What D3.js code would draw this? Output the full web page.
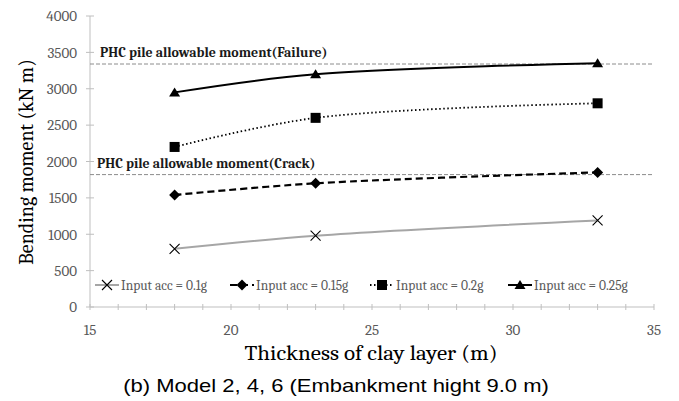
<!DOCTYPE html>
<html>
<head>
<meta charset="utf-8">
<script src="https://cdn.jsdelivr.net/npm/d3@7"></script>
<style>
  body { margin: 0; background: #fff; }
  svg { display: block; }
</style>
</head>
<body>
<svg id="chart"></svg>
<script>
// values
const thickness = [18, 23, 33];
const acc01 = [800, 980, 1190];
const acc015 = [1540, 1700, 1850];
const acc02 = [2200, 2600, 2800];
const acc025 = [2950, 3200, 3350];
const seriesNames = ['Input acc = 0.1g', 'Input acc = 0.15g', 'Input acc = 0.2g', 'Input acc = 0.25g'];
const failureMoment = 3340;
const crackMoment = 1820;
const xTicks = [15, 20, 25, 30, 35];
const yTicks = [0, 500, 1000, 1500, 2000, 2500, 3000, 3500, 4000];

const width = 679, height = 401;
const margin = {top: 16, right: 25, bottom: 94, left: 90};
const innerW = width - margin.left - margin.right;
const innerH = height - margin.top - margin.bottom;

const svg = d3.select('#chart').attr('width', width).attr('height', height);
const chart = svg.append('g').attr('transform', `translate(${margin.left},${margin.top})`);

const xscale = d3.scaleLinear().domain([15, 35]).range([0, innerW]);
const yscale = d3.scaleLinear().domain([0, 4000]).range([innerH, 0]);

const serif = 'Cambria, "Liberation Serif", "DejaVu Serif", serif';
const axisColor = '#bfbfbf';
const tickText = '#595959';

// x axis, minor ticks every 1 m crossing the line
const xg = chart.append('g').attr('transform', `translate(0,${innerH})`);
xg.append('line').attr('x1', 0).attr('x2', innerW).attr('stroke', axisColor);
xg.selectAll('.minor').data(d3.range(15, 36, 1)).join('line')
    .attr('x1', d => xscale(d)).attr('x2', d => xscale(d))
    .attr('y1', -3).attr('y2', 3)
    .attr('stroke', axisColor);
xg.selectAll('text').data(xTicks).join('text')
    .attr('x', d => xscale(d)).attr('y', 28)
    .attr('text-anchor', 'middle')
    .style('font-family', serif).style('font-size', '15px')
    .attr('fill', tickText)
    .text(d => d);

// y axis
const yg = chart.append('g');
yg.append('line').attr('y1', 0).attr('y2', innerH).attr('stroke', axisColor);
yg.selectAll('.tick').data(yTicks).join('line')
    .attr('x1', -4).attr('x2', 4)
    .attr('y1', d => yscale(d)).attr('y2', d => yscale(d))
    .attr('stroke', axisColor);
yg.selectAll('text').data(yTicks).join('text')
    .attr('x', -13).attr('y', d => yscale(d)).attr('dy', '0.35em')
    .attr('text-anchor', 'end')
    .style('font-family', serif).style('font-size', '15px')
    .attr('fill', tickText)
    .text(d => d);

// allowable moment reference lines
const refs = [
    {v: failureMoment, label: 'PHC pile allowable moment(Failure)', dx: 10},
    {v: crackMoment, label: 'PHC pile allowable moment(Crack)', dx: 7}
];
refs.forEach(r => {
    chart.append('line')
        .attr('x1', 0).attr('x2', innerW)
        .attr('y1', yscale(r.v)).attr('y2', yscale(r.v))
        .attr('stroke', '#8c8c8c').attr('stroke-dasharray', '4,2');
    chart.append('text')
        .attr('transform', `translate(${r.dx},${yscale(r.v) - 7}) scale(1.03,1)`)
        .style('font-family', serif).style('font-size', '13.5px').style('font-weight', 'bold')
        .attr('fill', '#1a1a1a')
        .text(r.label);
});

// series
const series = [
    {name: seriesNames[0], values: acc01, color: '#a6a6a6', dash: null, marker: 'x', width: 2},
    {name: seriesNames[1], values: acc015, color: '#000', dash: '7,4', marker: 'diamond', width: 2.2},
    {name: seriesNames[2], values: acc02, color: '#000', dash: '1.5,2.5', marker: 'square', width: 1.8},
    {name: seriesNames[3], values: acc025, color: '#000', dash: null, marker: 'triangle', width: 2}
];

const line = d3.line()
    .x(d => xscale(d[0]))
    .y(d => yscale(d[1]))
    .curve(d3.curveCatmullRom.alpha(0.5));

function drawMarker(g, type, x, y) {
    if (type === 'x') {
        g.append('path')
            .attr('d', `M${x-5},${y-5}L${x+5},${y+5}M${x-5},${y+5}L${x+5},${y-5}`)
            .attr('stroke', '#000').attr('stroke-width', 1.1).attr('fill', 'none');
    } else if (type === 'diamond') {
        g.append('path').attr('d', `M${x},${y-5.5}L${x+5.5},${y}L${x},${y+5.5}L${x-5.5},${y}Z`)
            .attr('fill', '#000');
    } else if (type === 'square') {
        g.append('rect').attr('x', x - 5).attr('y', y - 5)
            .attr('width', 10).attr('height', 10).attr('fill', '#000');
    } else {
        g.append('path').attr('d', `M${x},${y-5}L${x+5.5},${y+4}L${x-5.5},${y+4}Z`)
            .attr('fill', '#000');
    }
}

series.forEach(s => {
    const pts = thickness.map((t, i) => [t, s.values[i]]);
    chart.append('path')
        .datum(pts)
        .attr('d', line)
        .attr('fill', 'none')
        .attr('stroke', s.color)
        .attr('stroke-width', s.width)
        .attr('stroke-dasharray', s.dash);
    const mg = chart.append('g');
    pts.forEach(p => drawMarker(mg, s.marker, xscale(p[0]), yscale(p[1])));
});

// legend
const legendX = [5, 140, 280, 418];
const legend = chart.append('g').attr('transform', `translate(0,${innerH - 22})`);
series.forEach((s, i) => {
    const g = legend.append('g').attr('transform', `translate(${legendX[i]},0)`);
    g.append('line').attr('x1', 0).attr('x2', 24)
        .attr('stroke', s.color).attr('stroke-width', s.width)
        .attr('stroke-dasharray', s.dash);
    drawMarker(g, s.marker, 12, 0);
    g.append('text')
        .attr('x', 26).attr('y', 0).attr('dy', '0.35em')
        .style('font-family', serif).style('font-size', '13.5px')
        .attr('fill', tickText)
        .text(s.name);
});

// axis titles
svg.append('text')
    .attr('transform', `translate(${margin.left + innerW / 2 - 1},360) scale(1.15,1)`)
    .attr('text-anchor', 'middle')
    .style('font-family', serif).style('font-size', '20px')
    .attr('fill', '#000')
    .text('Thickness of clay layer (m)');

svg.append('text')
    .attr('transform', `translate(33,${margin.top + 146}) rotate(-90)`)
    .attr('text-anchor', 'middle')
    .style('font-family', serif).style('font-size', '20px')
    .attr('fill', '#000')
    .text('Bending moment (kN m)');

svg.append('text')
    .attr('transform', 'translate(336,392) scale(1.19,1)')
    .attr('text-anchor', 'middle')
    .style('font-family', 'Arial, "Liberation Sans", sans-serif').style('font-size', '18.5px')
    .attr('fill', '#000')
    .text('(b) Model 2, 4, 6 (Embankment hight 9.0 m)');
</script>
</body>
</html>
